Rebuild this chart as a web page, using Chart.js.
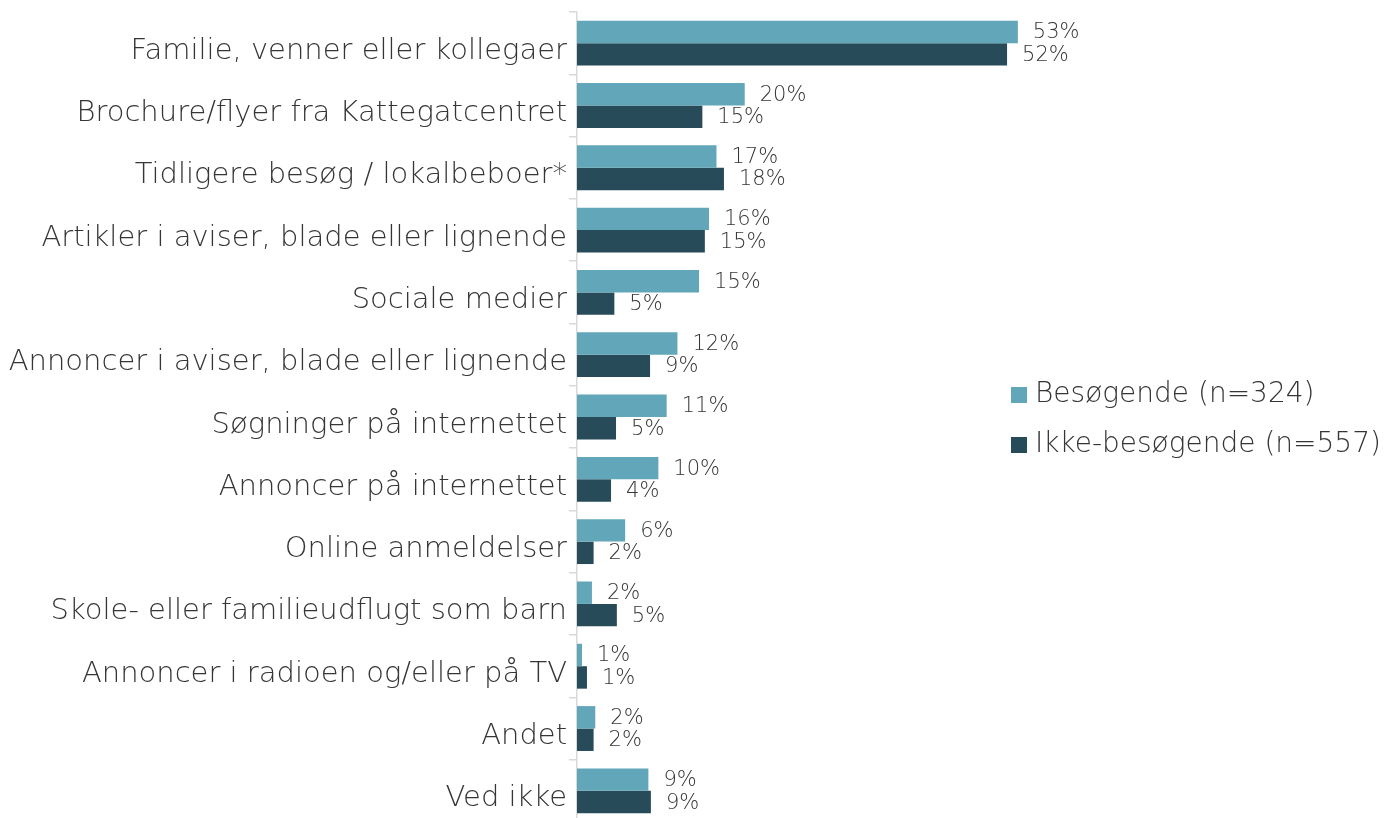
<!DOCTYPE html>
<html>
<head>
<meta charset="utf-8">
<script src="https://cdn.jsdelivr.net/npm/chart.js@4/dist/chart.umd.min.js"></script>
<style>
    html, body { margin: 0; padding: 0; background: #ffffff; overflow: hidden; }
    #wrap { position: relative; width: 1384px; height: 822px; }
</style>
</head>
<body>
<div id="wrap"><canvas id="myChart"></canvas></div>
<script>
let categories = [
    'Familie, venner eller kollegaer',
    'Brochure/flyer fra Kattegatcentret',
    'Tidligere besøg / lokalbeboer*',
    'Artikler i aviser, blade eller lignende',
    'Sociale medier',
    'Annoncer i aviser, blade eller lignende',
    'Søgninger på internettet',
    'Annoncer på internettet',
    'Online anmeldelser',
    'Skole- eller familieudflugt som barn',
    'Annoncer i radioen og/eller på TV',
    'Andet',
    'Ved ikke'
]

let visitors = [53.1, 20.2, 16.8, 15.9, 14.7, 12.1, 10.8, 9.8, 5.8, 1.8, 0.6, 2.2, 8.6]
let nonVisitors = [51.8, 15.1, 17.7, 15.4, 4.5, 8.8, 4.7, 4.1, 2.0, 4.8, 1.2, 2.0, 8.9]

let seriesNames = ['Besøgende (n=324)', 'Ikke-besøgende (n=557)']

const FONT = '"DejaVu Sans", sans-serif'
const TEXT_COLOR = '#353535'

// value labels right of each bar
let valueLabels = {
    id: 'valueLabels',
    afterDatasetsDraw(chart) {
        let ctx = chart.ctx
        ctx.save()
        ctx.font = '200 21px ' + FONT
        ctx.fillStyle = TEXT_COLOR
        ctx.textAlign = 'left'
        ctx.textBaseline = 'middle'
        chart.data.datasets.forEach((dataset, i) => {
            chart.getDatasetMeta(i).data.forEach((bar, idx) => {
                ctx.fillText(Math.round(dataset.data[idx]) + '%', bar.x + 15, bar.y + 1)
            })
        })
        ctx.restore()
    }
}

// legend drawn inside the plot, right side
let sideLegend = {
    id: 'sideLegend',
    afterDraw(chart) {
        let ctx = chart.ctx
        ctx.save()
        ctx.font = '200 28px ' + FONT
        ctx.textAlign = 'left'
        ctx.textBaseline = 'middle'
        chart.data.datasets.forEach((dataset, i) => {
            let y = 395 + i * 50
            ctx.fillStyle = dataset.backgroundColor
            ctx.fillRect(1011, y - 8, 16, 16)
            ctx.fillStyle = TEXT_COLOR
            ctx.fillText(dataset.label, 1035, y)
        })
        ctx.restore()
    }
}

let data = {
    labels: categories,
    datasets: [{
        label: seriesNames[0],
        data: visitors,
        backgroundColor: '#62A6B9',
        borderWidth: 0
    }, {
        label: seriesNames[1],
        data: nonVisitors,
        backgroundColor: '#274B59',
        borderWidth: 0
    }]
}

let config = {
    type: 'bar',
    data: data,
    plugins: [valueLabels, sideLegend],
    options: {
        indexAxis: 'y',
        responsive: true,
        maintainAspectRatio: false,
        animation: false,
        layout: {
            padding: { top: 12, right: 0, bottom: 0, left: 0 }
        },
        datasets: {
            bar: {
                categoryPercentage: 0.72,
                barPercentage: 1.0
            }
        },
        scales: {
            x: {
                display: false,
                min: 0,
                max: 97.2
            },
            y: {
                afterFit: (scale) => {
                    scale.width = 577
                    scale.paddingTop = 0
                    scale.paddingBottom = 0
                },
                border: {
                    display: true,
                    color: '#D9D9D9',
                    width: 1.5
                },
                grid: {
                    display: true,
                    offset: true,
                    drawOnChartArea: false,
                    drawTicks: true,
                    tickLength: 8,
                    color: '#D9D9D9',
                    lineWidth: 1.5
                },
                ticks: {
                    color: TEXT_COLOR,
                    padding: 2,
                    labelOffset: 8,
                    font: { family: FONT, size: 29, weight: 200 },
                    autoSkip: false
                }
            }
        },
        plugins: {
            legend: { display: false },
            tooltip: { enabled: false }
        }
    }
}

let mychart = new Chart(document.getElementById('myChart'), config)
</script>
</body>
</html>
